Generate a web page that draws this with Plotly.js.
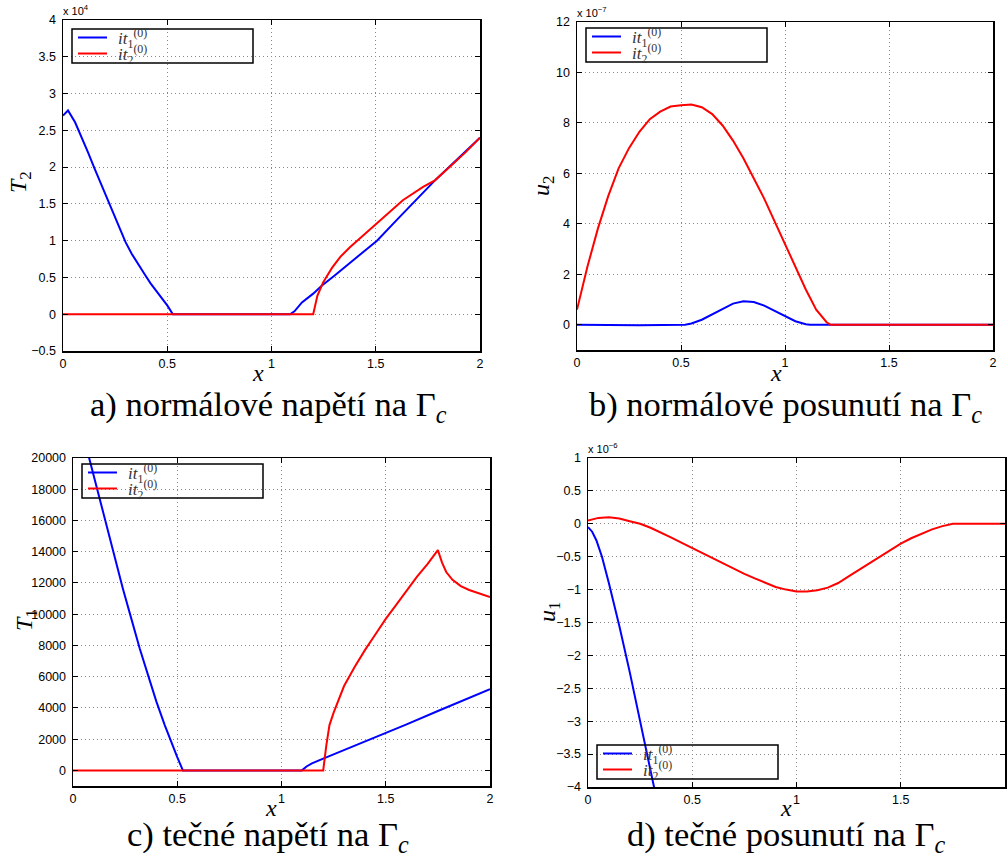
<!DOCTYPE html>
<html>
<head>
<meta charset="utf-8">
<script src="https://cdn.plot.ly/plotly-3.0.1.min.js"></script>
<style>
  html, body { margin: 0; padding: 0; background: #fff; }
  #chart { width: 1007px; height: 858px; }
</style>
</head>
<body>
<div id="chart"></div>
<script>
// a) normal stress T2 on Gamma_c (axis units of 1e4)
const xA1 = [0, 0.024, 0.058, 0.09, 0.12, 0.15, 0.18, 0.21, 0.24, 0.27, 0.30, 0.33, 0.36, 0.39, 0.42, 0.45, 0.48, 0.5, 0.527, 0.7, 0.9, 1.089, 1.11, 1.146, 1.2, 1.242, 1.3, 1.376, 1.45, 1.506, 1.6, 1.7, 1.784, 1.9, 2.0];
const T2_it1 = [2.70, 2.77, 2.61, 2.41, 2.20, 1.99, 1.79, 1.58, 1.38, 1.17, 0.98, 0.82, 0.68, 0.55, 0.42, 0.31, 0.20, 0.12, 0, 0, 0, 0, 0.04, 0.16, 0.28, 0.39, 0.52, 0.70, 0.87, 1.0, 1.28, 1.57, 1.82, 2.13, 2.4];
const xA2 = [0, 1.2, 1.22, 1.247, 1.29, 1.33, 1.376, 1.45, 1.506, 1.57, 1.63, 1.727, 1.784, 1.85, 1.93, 2.0];
const T2_it2 = [0, 0, 0.25, 0.43, 0.63, 0.78, 0.91, 1.1, 1.24, 1.40, 1.55, 1.73, 1.82, 1.99, 2.2, 2.4];

// b) normal displacement u2 on Gamma_c (axis units of 1e-7)
const xB1 = [0, 0.3, 0.52, 0.55, 0.6, 0.65, 0.7, 0.75, 0.8, 0.85, 0.9, 0.95, 1.0, 1.05, 1.1, 1.12, 2.0];
const u2_it1 = [0, -0.02, 0, 0.05, 0.2, 0.42, 0.65, 0.84, 0.93, 0.9, 0.76, 0.56, 0.34, 0.14, 0.02, 0, 0];
const xB2 = [0, 0.05, 0.1, 0.15, 0.2, 0.25, 0.3, 0.35, 0.4, 0.45, 0.5, 0.55, 0.6, 0.65, 0.7, 0.75, 0.8, 0.85, 0.9, 0.95, 1.0, 1.05, 1.1, 1.15, 1.2, 1.22, 2.0];
const u2_it2 = [0.6, 2.3, 3.8, 5.1, 6.2, 7.0, 7.65, 8.15, 8.45, 8.65, 8.7, 8.73, 8.62, 8.35, 7.9, 7.3, 6.6, 5.8, 5.0, 4.1, 3.2, 2.3, 1.4, 0.6, 0.1, 0, 0];

// c) tangential stress T1 on Gamma_c
const xC1 = [0, 0.077, 0.12, 0.16, 0.2, 0.24, 0.28, 0.32, 0.36, 0.4, 0.44, 0.47, 0.5, 0.527, 0.8, 1.098, 1.12, 1.146, 1.2, 1.3, 1.44, 1.6, 1.75, 2.0];
const T1_it1 = [24000, 20000, 17700, 15600, 13600, 11600, 9700, 7800, 6100, 4400, 2900, 1850, 850, 0, 0, 0, 250, 450, 750, 1300, 2020, 2950, 3800, 5200];
const xC2 = [0, 1.2, 1.215, 1.23, 1.25, 1.3, 1.35, 1.4, 1.45, 1.5, 1.55, 1.6, 1.65, 1.7, 1.75, 1.77, 1.79, 1.82, 1.86, 1.9, 1.95, 2.0];
const T1_it2 = [0, 0, 1600, 2900, 3700, 5400, 6600, 7700, 8700, 9700, 10600, 11500, 12400, 13200, 14100, 13300, 12700, 12200, 11800, 11550, 11300, 11100];

// d) tangential displacement u1 on Gamma_c (axis units of 1e-6)
const xD1 = [0, 0.02, 0.04, 0.067, 0.1, 0.15, 0.2, 0.25, 0.28, 0.317, 0.35];
const u1_it1 = [-0.05, -0.12, -0.25, -0.5, -0.9, -1.55, -2.25, -3.0, -3.45, -4.0, -4.5];
const xD2 = [0, 0.05, 0.1, 0.15, 0.2, 0.25, 0.3, 0.35, 0.4, 0.45, 0.5, 0.55, 0.6, 0.65, 0.7, 0.75, 0.8, 0.85, 0.9, 0.95, 1.0, 1.05, 1.1, 1.15, 1.2, 1.25, 1.3, 1.35, 1.4, 1.45, 1.5, 1.55, 1.6, 1.65, 1.7, 1.75, 2.0];
const u1_it2 = [0.05, 0.09, 0.1, 0.08, 0.04, 0.0, -0.06, -0.13, -0.21, -0.29, -0.37, -0.45, -0.52, -0.6, -0.68, -0.76, -0.83, -0.9, -0.96, -1.0, -1.03, -1.03, -1.01, -0.97, -0.9, -0.8, -0.7, -0.59, -0.49, -0.39, -0.3, -0.22, -0.15, -0.085, -0.035, 0, 0];

const seriesNames = ['<i>it</i><sub>1</sub><sup>(0)</sup>', '<i>it</i><sub>2</sub><sup>(0)</sup>'];
const seriesColors = ['#0000ff', '#ff0000'];
const captions = [
  'a) normálové napětí na Γ<sub><i>c</i></sub>',
  'b) normálové posunutí na Γ<sub><i>c</i></sub>',
  'c) tečné napětí na Γ<sub><i>c</i></sub>',
  'd) tečné posunutí na Γ<sub><i>c</i></sub>'
];
const yTitles = ['<i>T</i><sub>2</sub>', '<i>u</i><sub>2</sub>', '<i>T</i><sub>1</sub>', '<i>u</i><sub>1</sub>'];
const exponents = ['x 10<sup>4</sup>', 'x 10<sup>−7</sup>', '', 'x 10<sup>−6</sup>'];

const W = 1007, H = 858;
const px = v => v / W;
const py = v => 1 - v / H;

const SANS = "'Liberation Sans', Arial, Helvetica, sans-serif";
const SERIF = "'Liberation Serif', 'Times New Roman', serif";

function line(x, y, k, idx) {
  const suffix = k === 1 ? '' : String(k);
  return {
    x: x, y: y, type: 'scatter', mode: 'lines',
    name: seriesNames[idx], showlegend: false,
    line: { color: seriesColors[idx], width: 2 },
    xaxis: 'x' + suffix, yaxis: 'y' + suffix
  };
}

const traces = [
  line(xA1, T2_it1, 1, 0), line(xA2, T2_it2, 1, 1),
  line(xB1, u2_it1, 2, 0), line(xB2, u2_it2, 2, 1),
  line(xC1, T1_it1, 3, 0), line(xC2, T1_it2, 3, 1),
  line(xD1, u1_it1, 4, 0), line(xD2, u1_it2, 4, 1)
];

function baseAxis(extra) {
  return Object.assign({
    showline: true, linecolor: '#000', linewidth: 1.5, mirror: 'ticks',
    ticks: 'inside', ticklen: 5, tickwidth: 1, tickcolor: '#000',
    showgrid: true, gridcolor: '#8a8a8a', griddash: '1px,3px', gridwidth: 1,
    zeroline: false, automargin: false, fixedrange: true,
    tickfont: { family: SANS, size: 12.5, color: '#000' },
    exponentformat: 'none'
  }, extra);
}

// plot boxes in pixels: [left, right, top, bottom]
const boxes = [
  [63, 480, 20, 351],
  [577, 993, 22, 350],
  [73, 490, 458, 786],
  [588, 1005, 458, 787]
];
const yRanges = [[-0.5, 4], [-1, 12], [-1000, 20000], [-4, 1]];
const yTicks = [0.5, 2, 2000, 0.5];
const yTick0 = [-0.5, 0, 0, -4];
const yFormats = ['', 'd', 'd', ''];

const layout = {
  width: W, height: H,
  margin: { l: 0, r: 0, t: 0, b: 0 },
  paper_bgcolor: '#fff', plot_bgcolor: '#fff',
  showlegend: false,
  annotations: [],
  shapes: [],
  font: { family: SANS, color: '#000' }
};

boxes.forEach((b, i) => {
  const s = i === 0 ? '' : String(i + 1);
  layout['xaxis' + s] = baseAxis({
    domain: [px(b[0]), px(b[1])], range: [0, 2], dtick: 0.5, tick0: 0,
    anchor: 'y' + s, ticklabelstandoff: 0
  });
  layout['yaxis' + s] = baseAxis({
    domain: [py(b[3]), py(b[2])], range: yRanges[i], dtick: yTicks[i], tick0: yTick0[i],
    anchor: 'x' + s, tickformat: yFormats[i], ticklabelstandoff: 3
  });
});

// boxed legend per panel: frame, line samples and labels
const legendPos = [[72, 29], [586, 28], [82, 464], [597, 745]];
const LEG_W = 181, LEG_H = 34;
legendPos.forEach(p => {
  const [L, T] = p;
  layout.shapes.push({
    type: 'rect', xref: 'paper', yref: 'paper',
    x0: px(L), x1: px(L + LEG_W), y0: py(T + LEG_H), y1: py(T),
    line: { color: '#000', width: 1.5 }, fillcolor: 'rgba(0,0,0,0)', layer: 'above'
  });
  [8.5, 24.5].forEach((dy, k) => {
    layout.shapes.push({
      type: 'line', xref: 'paper', yref: 'paper',
      x0: px(L + 6), x1: px(L + 35), y0: py(T + dy), y1: py(T + dy),
      line: { color: seriesColors[k], width: 2 }, layer: 'above'
    });
    layout.annotations.push({
      xref: 'paper', yref: 'paper', x: px(L + 44), y: py(T + dy + 1),
      text: seriesNames[k], showarrow: false, xanchor: 'left', yanchor: 'middle',
      font: { family: SERIF, size: 17, color: '#333' }
    });
  });
});

// axis titles, exponent labels and panel captions
const xTitlePos = [[258, 373], [776, 373], [271, 808], [786, 808]];
const yTitlePos = [[20, 182], [543, 186], [26, 620], [549, 612]];
const captionPos = [[268, 406], [785, 406], [268, 836], [786, 836]];

boxes.forEach((b, i) => {
  layout.annotations.push({
    xref: 'paper', yref: 'paper', x: px(xTitlePos[i][0]), y: py(xTitlePos[i][1]),
    text: '<i>x</i>', showarrow: false, xanchor: 'center', yanchor: 'middle',
    font: { family: SERIF, size: 24, color: '#000' }
  });
  layout.annotations.push({
    xref: 'paper', yref: 'paper', x: px(yTitlePos[i][0]), y: py(yTitlePos[i][1]),
    text: yTitles[i], showarrow: false, textangle: -90, xanchor: 'center', yanchor: 'middle',
    font: { family: SERIF, size: 24, color: '#000' }
  });
  layout.annotations.push({
    xref: 'paper', yref: 'paper', x: px(captionPos[i][0]), y: py(captionPos[i][1]),
    text: captions[i], showarrow: false, xanchor: 'center', yanchor: 'middle',
    font: { family: SERIF, size: 34.5, color: '#000' }
  });
  if (exponents[i]) {
    layout.annotations.push({
      xref: 'paper', yref: 'paper', x: px(b[0] - 2), y: py(b[2] - 1),
      text: exponents[i], showarrow: false, xanchor: 'left', yanchor: 'bottom',
      font: { family: SANS, size: 11, color: '#000' }
    });
  }
});

Plotly.newPlot('chart', traces, layout, { displayModeBar: false, staticPlot: true });
</script>
</body>
</html>
